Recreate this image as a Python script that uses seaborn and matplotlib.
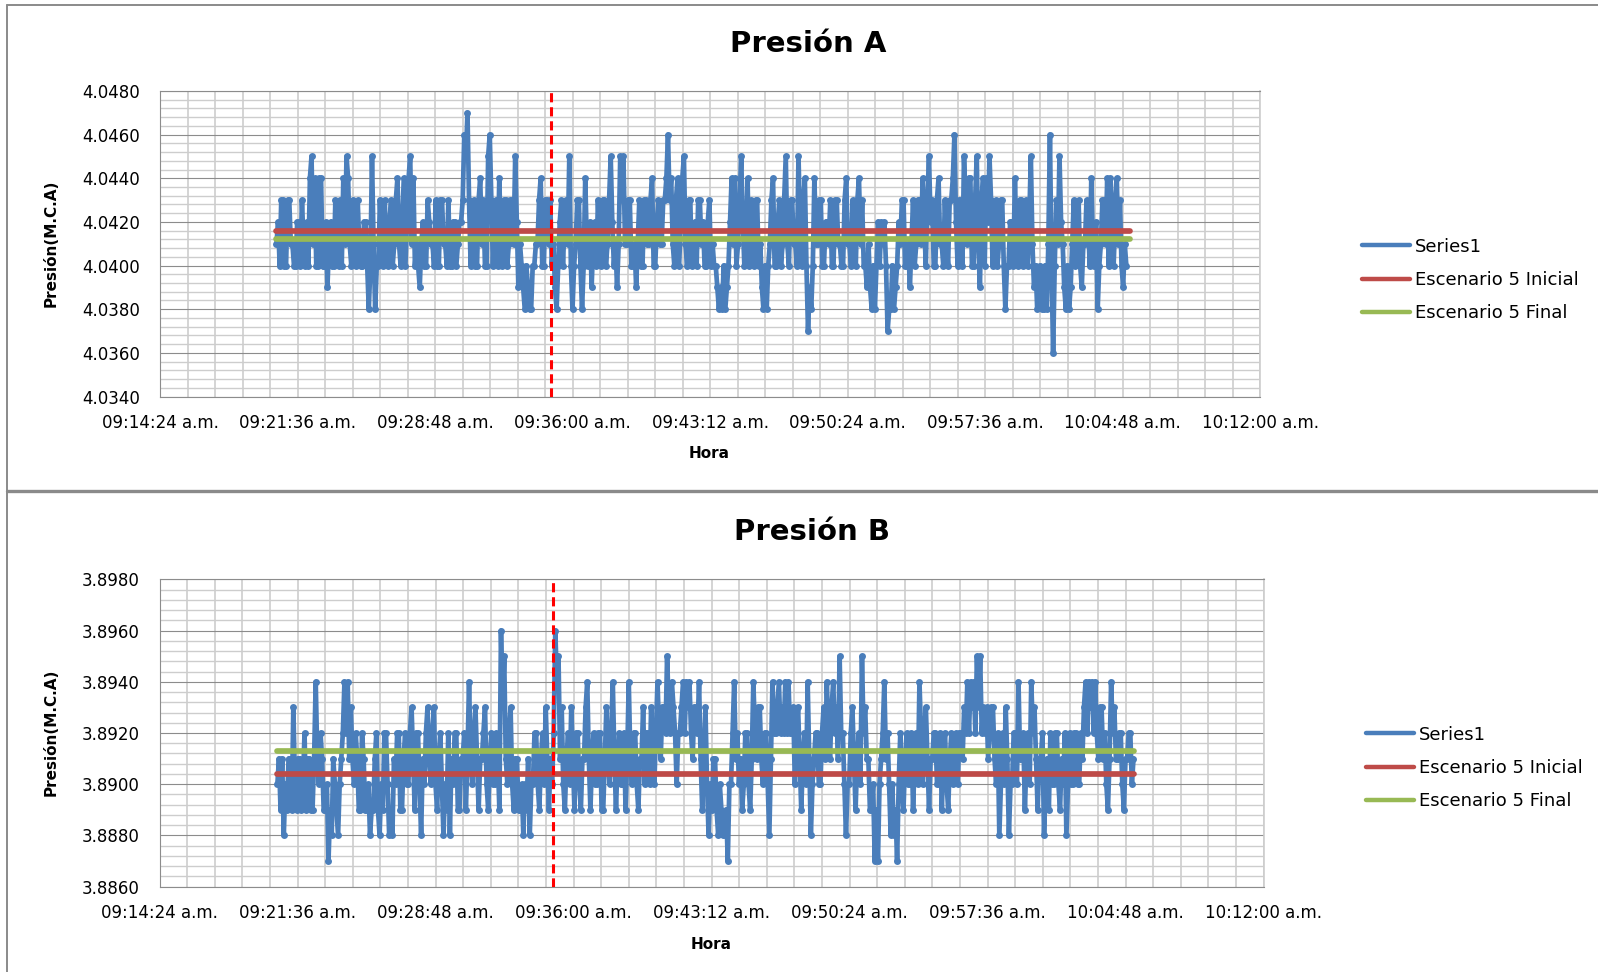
import matplotlib
matplotlib.use("Agg")
import numpy as np
import pandas as pd
import matplotlib.pyplot as plt
import matplotlib.dates as mdates
from matplotlib.ticker import MultipleLocator, FixedLocator, FixedFormatter, FormatStrFormatter
from matplotlib.lines import Line2D
import seaborn as sns

sns.set_style("white")
plt.rcParams['font.family'] = ['DejaVu Sans']
plt.rcParams['text.color'] = 'black'

DAY = "2013-01-01"

TITLES = ["Presión A", "Presión B"]
Y_LABEL = "Presión(M.C.A)"
X_LABEL = "Hora"
LEGEND_LABELS = ["Series1", "Escenario 5 Inicial", "Escenario 5 Final"]

X_TICK_TIMES = ["09:14:24", "09:21:36", "09:28:48", "09:36:00", "09:43:12",
                "09:50:24", "09:57:36", "10:04:48", "10:12:00"]
X_TICK_LABELS = ["09:14:24 a.m.", "09:21:36 a.m.", "09:28:48 a.m.", "09:36:00 a.m.",
                 "09:43:12 a.m.", "09:50:24 a.m.", "09:57:36 a.m.", "10:04:48 a.m.",
                 "10:12:00 a.m."]

# ---------------- Presión A ----------------
A_YLIM = (4.034, 4.048)
A_START = "09:20:30"
A_STEP_S = 5
A_VALUES = [
    4.041, 4.042, 4.040, 4.043, 4.043, 4.040, 4.040, 4.043, 4.043, 4.041, 4.041, 4.040, 4.040, 4.042, 4.042, 4.040, 4.043, 4.041, 4.040, 4.042,
    4.040, 4.044, 4.045, 4.041, 4.044, 4.040, 4.040, 4.044, 4.044, 4.040, 4.040, 4.042, 4.039, 4.041, 4.042, 4.040, 4.040, 4.043, 4.041, 4.040,
    4.043, 4.040, 4.044, 4.041, 4.045, 4.044, 4.041, 4.040, 4.043, 4.041, 4.040, 4.043, 4.041, 4.040, 4.040, 4.042, 4.042, 4.040, 4.038, 4.040,
    4.045, 4.041, 4.038, 4.040, 4.040, 4.043, 4.041, 4.040, 4.043, 4.041, 4.040, 4.042, 4.043, 4.040, 4.041, 4.043, 4.044, 4.041, 4.040, 4.042,
    4.044, 4.040, 4.042, 4.044, 4.045, 4.041, 4.044, 4.040, 4.041, 4.040, 4.039, 4.041, 4.042, 4.040, 4.040, 4.043, 4.042, 4.041, 4.041, 4.040,
    4.043, 4.040, 4.040, 4.043, 4.043, 4.041, 4.041, 4.040, 4.043, 4.040, 4.040, 4.042, 4.042, 4.040, 4.041, 4.042, 4.042, 4.043, 4.046, 4.045,
    4.047, 4.043, 4.040, 4.042, 4.043, 4.040, 4.040, 4.043, 4.044, 4.041, 4.043, 4.040, 4.040, 4.045, 4.046, 4.043, 4.040, 4.042, 4.043, 4.040,
    4.044, 4.041, 4.040, 4.043, 4.043, 4.040, 4.041, 4.043, 4.043, 4.041, 4.045, 4.042, 4.039, 4.041, 4.040, 4.039, 4.038, 4.040, 4.039, 4.038,
    4.038, 4.040, 4.040, 4.041, 4.041, 4.043, 4.044, 4.040, 4.040, 4.043, 4.043, 4.041, 4.043, 4.040, 4.041, 4.039, 4.038, 4.040, 4.042, 4.043,
    4.040, 4.042, 4.043, 4.041, 4.045, 4.040, 4.038, 4.040, 4.041, 4.043, 4.043, 4.040, 4.038, 4.040, 4.044, 4.041, 4.040, 4.042, 4.039, 4.041,
    4.042, 4.040, 4.043, 4.041, 4.040, 4.043, 4.043, 4.040, 4.041, 4.043, 4.045, 4.042, 4.040, 4.041, 4.039, 4.041, 4.045, 4.043, 4.045, 4.041,
    4.041, 4.043, 4.043, 4.040, 4.040, 4.041, 4.039, 4.041, 4.043, 4.040, 4.040, 4.043, 4.043, 4.041, 4.041, 4.043, 4.044, 4.040, 4.040, 4.042,
    4.043, 4.041, 4.041, 4.043, 4.043, 4.044, 4.046, 4.043, 4.044, 4.041, 4.040, 4.043, 4.044, 4.040, 4.042, 4.044, 4.045, 4.041, 4.040, 4.043,
    4.043, 4.040, 4.041, 4.042, 4.040, 4.043, 4.043, 4.041, 4.042, 4.040, 4.040, 4.042, 4.043, 4.040, 4.041, 4.040, 4.040, 4.039, 4.038, 4.039,
    4.038, 4.040, 4.038, 4.039, 4.040, 4.042, 4.044, 4.041, 4.044, 4.040, 4.041, 4.043, 4.045, 4.042, 4.040, 4.041, 4.044, 4.040, 4.043, 4.041,
    4.040, 4.043, 4.043, 4.040, 4.041, 4.039, 4.038, 4.040, 4.038, 4.040, 4.041, 4.043, 4.044, 4.040, 4.040, 4.042, 4.043, 4.040, 4.041, 4.043,
    4.045, 4.041, 4.040, 4.043, 4.043, 4.041, 4.041, 4.040, 4.045, 4.042, 4.040, 4.043, 4.044, 4.040, 4.037, 4.039, 4.038, 4.040, 4.044, 4.041,
    4.041, 4.043, 4.043, 4.040, 4.040, 4.042, 4.042, 4.041, 4.043, 4.040, 4.040, 4.043, 4.043, 4.041, 4.041, 4.040, 4.040, 4.043, 4.044, 4.041,
    4.041, 4.040, 4.043, 4.041, 4.040, 4.043, 4.044, 4.041, 4.043, 4.040, 4.040, 4.039, 4.041, 4.039, 4.038, 4.040, 4.038, 4.040, 4.042, 4.040,
    4.042, 4.041, 4.042, 4.040, 4.037, 4.038, 4.038, 4.040, 4.038, 4.039, 4.040, 4.042, 4.041, 4.043, 4.043, 4.040, 4.040, 4.041, 4.039, 4.041,
    4.043, 4.040, 4.041, 4.043, 4.043, 4.041, 4.044, 4.042, 4.040, 4.043, 4.045, 4.042, 4.043, 4.040, 4.040, 4.043, 4.044, 4.041, 4.041, 4.040,
    4.043, 4.041, 4.040, 4.043, 4.043, 4.044, 4.046, 4.042, 4.040, 4.043, 4.043, 4.040, 4.045, 4.043, 4.041, 4.044, 4.044, 4.040, 4.040, 4.043,
    4.045, 4.041, 4.039, 4.043, 4.044, 4.040, 4.044, 4.042, 4.045, 4.043, 4.040, 4.042, 4.043, 4.040, 4.041, 4.043, 4.043, 4.040, 4.038, 4.040,
    4.040, 4.042, 4.042, 4.040, 4.044, 4.041, 4.040, 4.043, 4.043, 4.040, 4.041, 4.043, 4.040, 4.042, 4.045, 4.041, 4.039, 4.040, 4.038, 4.039,
    4.040, 4.038, 4.038, 4.040, 4.038, 4.041, 4.046, 4.040, 4.036, 4.040, 4.043, 4.041, 4.045, 4.042, 4.041, 4.039, 4.038, 4.040, 4.038, 4.039,
    4.041, 4.043, 4.040, 4.042, 4.043, 4.040, 4.039, 4.041, 4.041, 4.043, 4.042, 4.040, 4.044, 4.041, 4.040, 4.042, 4.038, 4.040, 4.041, 4.043,
    4.043, 4.041, 4.044, 4.040, 4.044, 4.043, 4.040, 4.042, 4.044, 4.041, 4.043, 4.040, 4.039, 4.041, 4.040,
]
A_INICIAL = 4.04158
A_FINAL = 4.04122
A_REF_SPAN = ["09:20:30", "10:05:13"]
A_MARK = "09:34:51"

# ---------------- Presión B ----------------
B_YLIM = (3.886, 3.898)
B_START = "09:20:33"
B_STEP_S = 5
B_VALUES = [
    3.890, 3.891, 3.889, 3.891, 3.888, 3.890, 3.889, 3.891, 3.891, 3.889, 3.893, 3.890, 3.889, 3.891, 3.891, 3.889, 3.890, 3.892, 3.889, 3.891,
    3.891, 3.889, 3.889, 3.891, 3.894, 3.891, 3.890, 3.892, 3.891, 3.889, 3.889, 3.890, 3.887, 3.889, 3.888, 3.891, 3.890, 3.889, 3.888, 3.890,
    3.891, 3.892, 3.894, 3.892, 3.894, 3.891, 3.893, 3.891, 3.890, 3.892, 3.891, 3.889, 3.889, 3.892, 3.891, 3.889, 3.889, 3.890, 3.888, 3.889,
    3.889, 3.891, 3.892, 3.889, 3.888, 3.890, 3.889, 3.892, 3.892, 3.890, 3.888, 3.889, 3.888, 3.891, 3.890, 3.892, 3.892, 3.889, 3.889, 3.891,
    3.892, 3.890, 3.890, 3.892, 3.893, 3.891, 3.889, 3.892, 3.892, 3.890, 3.888, 3.891, 3.890, 3.892, 3.893, 3.891, 3.890, 3.892, 3.893, 3.890,
    3.889, 3.891, 3.892, 3.890, 3.888, 3.890, 3.889, 3.892, 3.888, 3.891, 3.890, 3.892, 3.892, 3.889, 3.889, 3.891, 3.891, 3.892, 3.889, 3.891,
    3.894, 3.891, 3.890, 3.892, 3.893, 3.891, 3.889, 3.891, 3.891, 3.892, 3.893, 3.890, 3.889, 3.891, 3.892, 3.890, 3.890, 3.892, 3.891, 3.889,
    3.896, 3.893, 3.895, 3.891, 3.890, 3.892, 3.893, 3.890, 3.889, 3.891, 3.891, 3.889, 3.889, 3.890, 3.888, 3.890, 3.889, 3.891, 3.888, 3.890,
    3.890, 3.892, 3.892, 3.890, 3.889, 3.891, 3.892, 3.890, 3.893, 3.891, 3.889, 3.891, 3.890, 3.892, 3.896, 3.894, 3.895, 3.891, 3.893, 3.890,
    3.889, 3.891, 3.892, 3.890, 3.893, 3.891, 3.889, 3.892, 3.892, 3.890, 3.889, 3.891, 3.891, 3.893, 3.894, 3.891, 3.889, 3.891, 3.892, 3.890,
    3.890, 3.892, 3.892, 3.889, 3.889, 3.891, 3.893, 3.891, 3.890, 3.892, 3.894, 3.891, 3.889, 3.891, 3.892, 3.890, 3.890, 3.892, 3.889, 3.891,
    3.894, 3.891, 3.890, 3.892, 3.892, 3.890, 3.889, 3.891, 3.891, 3.893, 3.890, 3.892, 3.892, 3.890, 3.893, 3.891, 3.890, 3.892, 3.894, 3.892,
    3.891, 3.893, 3.893, 3.892, 3.895, 3.893, 3.892, 3.894, 3.893, 3.892, 3.890, 3.892, 3.892, 3.893, 3.894, 3.892, 3.894, 3.893, 3.894, 3.892,
    3.891, 3.893, 3.893, 3.892, 3.894, 3.891, 3.889, 3.891, 3.893, 3.890, 3.888, 3.890, 3.889, 3.891, 3.891, 3.889, 3.888, 3.890, 3.889, 3.888,
    3.888, 3.889, 3.887, 3.890, 3.890, 3.892, 3.894, 3.891, 3.892, 3.890, 3.891, 3.889, 3.890, 3.892, 3.892, 3.890, 3.889, 3.891, 3.894, 3.892,
    3.891, 3.893, 3.893, 3.891, 3.890, 3.892, 3.892, 3.890, 3.888, 3.891, 3.894, 3.892, 3.892, 3.893, 3.894, 3.892, 3.893, 3.892, 3.894, 3.892,
    3.894, 3.892, 3.892, 3.893, 3.890, 3.892, 3.893, 3.891, 3.889, 3.891, 3.892, 3.890, 3.894, 3.891, 3.888, 3.890, 3.891, 3.892, 3.892, 3.890,
    3.890, 3.892, 3.893, 3.891, 3.894, 3.892, 3.891, 3.893, 3.894, 3.892, 3.893, 3.891, 3.895, 3.892, 3.892, 3.890, 3.888, 3.890, 3.890, 3.892,
    3.893, 3.891, 3.889, 3.891, 3.892, 3.890, 3.895, 3.892, 3.893, 3.891, 3.891, 3.889, 3.889, 3.890, 3.887, 3.889, 3.887, 3.890, 3.891, 3.892,
    3.894, 3.891, 3.892, 3.890, 3.888, 3.890, 3.888, 3.889, 3.887, 3.890, 3.892, 3.890, 3.889, 3.891, 3.892, 3.890, 3.890, 3.892, 3.889, 3.891,
    3.892, 3.890, 3.894, 3.892, 3.890, 3.892, 3.893, 3.891, 3.889, 3.891, 3.891, 3.892, 3.892, 3.890, 3.890, 3.892, 3.889, 3.891, 3.892, 3.890,
    3.889, 3.891, 3.892, 3.890, 3.891, 3.892, 3.890, 3.892, 3.892, 3.891, 3.893, 3.892, 3.894, 3.892, 3.894, 3.893, 3.894, 3.892, 3.895, 3.893,
    3.895, 3.892, 3.893, 3.892, 3.893, 3.891, 3.892, 3.893, 3.893, 3.891, 3.890, 3.892, 3.888, 3.890, 3.892, 3.890, 3.893, 3.891, 3.888, 3.890,
    3.890, 3.892, 3.892, 3.890, 3.894, 3.891, 3.891, 3.892, 3.889, 3.891, 3.892, 3.890, 3.894, 3.892, 3.893, 3.891, 3.889, 3.891, 3.891, 3.892,
    3.888, 3.890, 3.891, 3.889, 3.892, 3.890, 3.890, 3.892, 3.892, 3.890, 3.889, 3.891, 3.890, 3.892, 3.888, 3.890, 3.892, 3.890, 3.890, 3.892,
    3.892, 3.890, 3.890, 3.892, 3.891, 3.893, 3.894, 3.892, 3.894, 3.893, 3.894, 3.892, 3.894, 3.892, 3.891, 3.893, 3.893, 3.891, 3.892, 3.890,
    3.889, 3.891, 3.894, 3.892, 3.893, 3.891, 3.891, 3.892, 3.892, 3.890, 3.889, 3.891, 3.891, 3.892, 3.892, 3.890, 3.891,
]
B_INICIAL = 3.89041
B_FINAL = 3.89129
B_REF_SPAN = ["09:20:33", "10:05:14"]
B_MARK = "09:34:55"

BLUE = "#4A7EBB"
RED = "#BE4B48"
GREEN = "#98B954"
DASH_RED = "#FF0000"
GRID_LIGHT = "#CDCDCD"
GRID_DARK = "#8C8C8C"
BORDER = "#8A8A8A"

W, H = 1598, 972
fig = plt.figure(figsize=(W / 100, H / 100), dpi=100)
fig.patch.set_facecolor("white")


def ts(t):
    return pd.Timestamp(f"{DAY} {t}")


def fx(px):
    return px / W


def fy(py):
    return 1 - py / H


panels = [
    dict(values=A_VALUES, start=A_START, step=A_STEP_S, ylim=A_YLIM, ini=A_INICIAL,
         fin=A_FINAL, span=A_REF_SPAN, mark=A_MARK, title=TITLES[0],
         box=(160, 91, 1260, 396.5), title_xy=(808.5, 44), ylab_xy=(51, 243),
         xlab_xy=(709, 454), leg_xy=(1362, 280)),
    dict(values=B_VALUES, start=B_START, step=B_STEP_S, ylim=B_YLIM, ini=B_INICIAL,
         fin=B_FINAL, span=B_REF_SPAN, mark=B_MARK, title=TITLES[1],
         box=(159.5, 579.3, 1263.5, 886.7), title_xy=(811.5, 532), ylab_xy=(51, 732),
         xlab_xy=(711, 944), leg_xy=(1366, 768)),
]

for p in panels:
    l, t, r, b = p["box"]
    ax = fig.add_axes([fx(l), fy(b), fx(r) - fx(l), fy(t) - fy(b)])
    times = pd.date_range(ts(p["start"]), periods=len(p["values"]), freq=f"{p['step']}s")
    df = pd.DataFrame({"Hora": times, "Presion": p["values"]})
    sns.lineplot(data=df, x="Hora", y="Presion", ax=ax, color=BLUE, lw=3.4,
                 marker="o", markersize=5.0, markeredgewidth=0, estimator=None,
                 sort=False, label=LEGEND_LABELS[0], zorder=3)
    span = pd.to_datetime([f"{DAY} {s}" for s in p["span"]])
    sns.lineplot(x=span, y=[p["ini"], p["ini"]], ax=ax, color=RED, lw=4.1,
                 estimator=None, label=LEGEND_LABELS[1], zorder=4)
    sns.lineplot(x=span, y=[p["fin"], p["fin"]], ax=ax, color=GREEN, lw=4.1,
                 estimator=None, label=LEGEND_LABELS[2], zorder=5)
    ax.axvline(ts(p["mark"]), color=DASH_RED, lw=2.2, dashes=(3, 1.6), zorder=6)

    ax.set_xlim(ts(X_TICK_TIMES[0]), ts(X_TICK_TIMES[-1]))
    ax.set_ylim(*p["ylim"])
    ax.xaxis.set_major_locator(FixedLocator(mdates.date2num([ts(x) for x in X_TICK_TIMES])))
    ax.xaxis.set_major_formatter(FixedFormatter(X_TICK_LABELS))
    ax.xaxis.set_minor_locator(MultipleLocator(0.001))
    ax.yaxis.set_major_locator(MultipleLocator(0.002))
    ax.yaxis.set_minor_locator(MultipleLocator(0.0004))
    ax.yaxis.set_major_formatter(FormatStrFormatter("%.4f"))

    ax.set_axisbelow(True)
    ax.grid(which="major", axis="x", color=GRID_LIGHT, lw=1.2)
    ax.grid(which="minor", axis="x", color=GRID_LIGHT, lw=1.2)
    ax.grid(which="minor", axis="y", color=GRID_LIGHT, lw=1.0)
    ax.grid(which="major", axis="y", color=GRID_DARK, lw=0.8)

    ax.tick_params(axis="both", which="major", length=6, width=0.8, color=GRID_DARK,
                   labelsize=12, labelcolor="#000000")
    ax.tick_params(axis="y", which="major", pad=8.5)
    ax.tick_params(axis="x", which="major", pad=6.5)
    ax.tick_params(axis="both", which="minor", length=0)
    for side in ["left", "bottom", "top"]:
        ax.spines[side].set_color(GRID_DARK)
        ax.spines[side].set_linewidth(0.8)
    ax.spines["right"].set_color(GRID_LIGHT)
    ax.spines["right"].set_linewidth(1.2)
    ax.set_xlabel("")
    ax.set_ylabel("")

    handles, labels = ax.get_legend_handles_labels()
    if ax.get_legend() is not None:
        ax.get_legend().remove()
    leg = ax.legend(handles, labels, loc="center left",
                    bbox_to_anchor=(fx(p["leg_xy"][0]), fy(p["leg_xy"][1])),
                    bbox_transform=fig.transFigure, frameon=False, fontsize=13,
                    handlelength=2.65, handletextpad=0.3, labelspacing=0.85,
                    borderpad=0, borderaxespad=0)
    for h in leg.legend_handles:
        h.set_marker("")
        h.set_linewidth(3.2)
    for txt in leg.get_texts():
        txt.set_color("black")

    fig.text(fx(p["title_xy"][0]), fy(p["title_xy"][1]), p["title"], ha="center",
             va="center", fontsize=21, fontweight="bold", color="black")
    fig.text(fx(p["ylab_xy"][0]), fy(p["ylab_xy"][1]), Y_LABEL, ha="center",
             va="center", rotation=90, fontsize=11, fontweight="bold", color="black")
    fig.text(fx(p["xlab_xy"][0]), fy(p["xlab_xy"][1]), X_LABEL, ha="center",
             va="center", fontsize=11, fontweight="bold", color="black")

# panel borders
fig.add_artist(Line2D([fx(7), 1], [fy(5), fy(5)], transform=fig.transFigure,
                      color=BORDER, lw=1.4))
fig.add_artist(Line2D([fx(7), fx(7)], [0, fy(5)], transform=fig.transFigure,
                      color=BORDER, lw=1.4))
fig.add_artist(Line2D([fx(7), 1], [fy(491.5), fy(491.5)], transform=fig.transFigure,
                      color=BORDER, lw=2.4))

fig.savefig("out.png", dpi=100)
